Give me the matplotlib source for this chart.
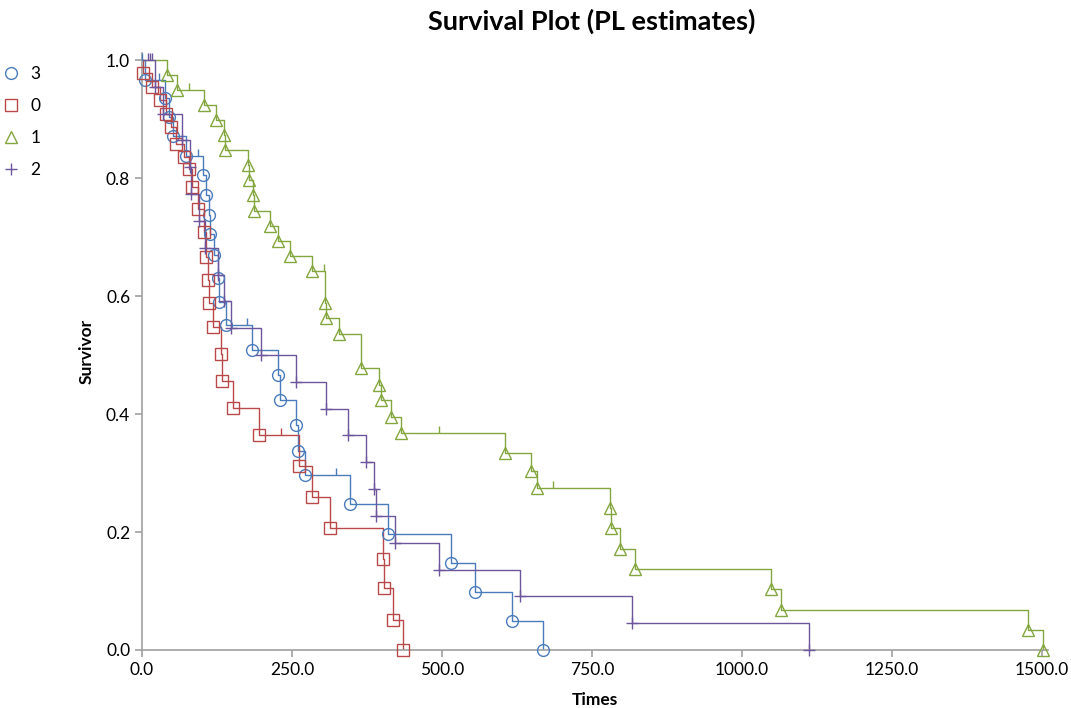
import numpy as np
import matplotlib
matplotlib.use("Agg")
import matplotlib.pyplot as plt
from matplotlib.lines import Line2D
from matplotlib.markers import TICKUP

plt.rcParams.update({"font.family": ["Lato", "DejaVu Sans"]})

# group "3" (blue circles)
g3_times = [5, 38, 45, 52, 73, 102, 107, 112, 113, 120, 126, 129, 140, 184, 227, 230,
            257, 260, 272, 347, 410, 515, 555, 616, 669]
g3_surv = [0.967, 0.935, 0.903, 0.871, 0.838, 0.805, 0.772, 0.738, 0.705, 0.669, 0.630,
           0.590, 0.551, 0.508, 0.466, 0.424, 0.381, 0.338, 0.297, 0.247, 0.196, 0.147,
           0.098, 0.049, 0.0]
g3_cens = [0, 29, 94, 175, 323]

# group "0" (red squares)
g0_times = [2, 16, 30, 40, 48, 56, 70, 79, 83, 93, 103, 107, 110, 112, 119, 131, 134,
            152, 195, 262, 284, 313, 402, 404, 419, 435]
g0_surv = [0.978, 0.955, 0.932, 0.909, 0.886, 0.858, 0.836, 0.815, 0.785, 0.747, 0.709,
           0.667, 0.628, 0.589, 0.547, 0.501, 0.456, 0.410, 0.364, 0.312, 0.260, 0.207,
           0.155, 0.105, 0.051, 0.0]
g0_cens = [232]

# group "1" (green triangles)
g1_times = [41, 58, 103, 123, 137, 138, 177, 178, 185, 186, 213, 227, 247, 283, 305, 306,
            328, 365, 395, 399, 415, 431, 605, 649, 658, 780, 782, 796, 822, 1049, 1065,
            1476, 1502]
g1_surv = [0.975, 0.949, 0.924, 0.899, 0.873, 0.848, 0.822, 0.797, 0.771, 0.745, 0.719,
           0.694, 0.668, 0.642, 0.589, 0.563, 0.536, 0.478, 0.450, 0.423, 0.395, 0.367,
           0.334, 0.304, 0.274, 0.240, 0.206, 0.171, 0.137, 0.103, 0.068, 0.034, 0.0]
g1_cens = [78, 303, 495, 685]

# group "2" (purple plus)
g2_times = [22, 35, 66, 80, 81, 95, 105, 127, 137, 149, 199, 257, 307, 344, 374, 387, 390,
            422, 495, 630, 816, 1111]
g2_surv = [0.955, 0.909, 0.864, 0.818, 0.773, 0.727, 0.682, 0.636, 0.591, 0.545, 0.500,
           0.455, 0.409, 0.364, 0.318, 0.273, 0.227, 0.182, 0.136, 0.091, 0.045, 0.0]
g2_cens = [10, 14, 17]

labels = ["3", "0", "1", "2"]
x_ticks = [0, 250, 500, 750, 1000, 1250, 1500]
y_ticks = [0.0, 0.2, 0.4, 0.6, 0.8, 1.0]

BLUE, RED, GREEN, PURPLE = "#4a7cbc", "#b8494a", "#84a63f", "#6e569c"
groups = [
    (g3_times, g3_surv, g3_cens, BLUE, "o"),
    (g0_times, g0_surv, g0_cens, RED, "s"),
    (g1_times, g1_surv, g1_cens, GREEN, "^"),
    (g2_times, g2_surv, g2_cens, PURPLE, "+"),
]

W, H = 1071, 708
fig = plt.figure(figsize=(W / 100, H / 100), dpi=100)
ax = fig.add_axes([142 / W, 1 - 650 / H, (1048 - 142) / W, (650 - 53) / H])

for t, s, c, col, mk in groups:
    tt = np.r_[0, t]
    ss = np.r_[1.0, s]
    ax.step(tt, ss, where="post", color=col, lw=1.0, zorder=2)
    ax.plot(t, s, ls="none", marker=mk, ms=8.5 if mk != "+" else 9, mfc="none",
            mec=col, mew=1.0, color=col, clip_on=False, zorder=3)
    idx = np.searchsorted(tt, c, side="right") - 1
    ax.plot(c, ss[idx], ls="none", marker=TICKUP, ms=5, mew=1.0, color=col,
            clip_on=False, zorder=3)

ax.set_xlim(0, 1510)
ax.set_ylim(0, 1.012)
ax.set_xticks(x_ticks)
ax.set_xticklabels([f"{v:.1f}" for v in x_ticks])
ax.set_yticks(y_ticks)
ax.set_yticklabels([f"{v:.1f}" for v in y_ticks])
for s in ("top", "right"):
    ax.spines[s].set_visible(False)
for s in ("left", "bottom"):
    ax.spines[s].set_color("#a0a0a0")
    ax.spines[s].set_linewidth(1.2)
ax.tick_params(colors="#a0a0a0", labelcolor="black", labelsize=12.5, length=5, width=1.2)

ax.set_xlabel("Times", fontsize=12.5, weight="bold", labelpad=10)
ax.set_ylabel("Survivor", fontsize=12.5, weight="bold", labelpad=8)
fig.text(592 / W, 1 - 21 / H, "Survival Plot (PL estimates)", ha="center", va="center",
         fontsize=19.5, weight="bold")

handles = [Line2D([], [], ls="none", marker=mk, ms=8.5 if mk != "+" else 9, mfc="none",
                  mec=col, mew=1.0, color=col) for _, _, _, col, mk in groups]
fig.legend(handles, labels, loc="upper left", bbox_to_anchor=(-0.004, 0.9165), frameon=False,
           fontsize=12.5, handlelength=1.0, handletextpad=0.6, labelspacing=0.92,
           borderaxespad=0.0)

fig.savefig("out.png", dpi=100)
